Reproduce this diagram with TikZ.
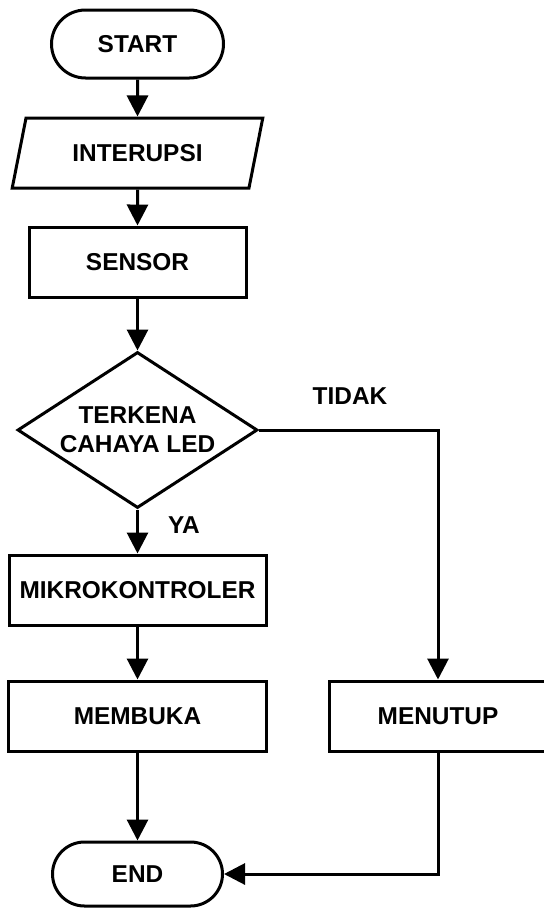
\documentclass[tikz,border=0pt]{standalone}
\usepackage{fontspec}
\setmainfont{Liberation Sans}
\usetikzlibrary{shapes.geometric, shapes.misc, arrows.meta}

\begin{document}
\begin{tikzpicture}
  [x=0.5pt, y=-0.5pt, line width=1.5pt,
   every node/.style={font=\fontsize{12.2}{14.5}\selectfont\bfseries},
   terminal/.style={draw, rounded rectangle, minimum width=#1, minimum height=34pt, inner sep=0pt},
   io box/.style={draw, trapezium, trapezium left angle=65, trapezium right angle=115,
     trapezium stretches=true, minimum width=126pt, minimum height=35pt, inner sep=0pt},
   proc box/.style={draw, rectangle, minimum width=#1, minimum height=35pt, inner sep=0pt},
   decision/.style={draw, diamond, shape aspect=1.54, minimum width=120pt, minimum height=78pt,
     inner sep=0pt, align=center},
   flow/.style={-{Triangle[length=10.5pt, width=10.5pt]}}]

  \useasboundingbox (0,0) rectangle (544,910);

  \node [terminal=86pt] (start) at (137.5,44) {START};
  \node [io box] (interupsi) at (137.5,153) {INTERUPSI};
  \node [proc box=108.5pt] (sensor) at (137.5,262) {SENSOR};
  \node [decision] (cek) at (137.5,430) {TERKENA\\CAHAYA LED};
  \node [proc box=128.5pt] (mikro) at (137.5,590) {MIKROKONTROLER};
  \node [proc box=129pt] (buka) at (137.5,716) {MEMBUKA};
  \node [proc box=109pt] (tutup) at (438,716) {MENUTUP};
  \node [terminal=85pt, minimum height=32pt] (end) at (137.5,874) {END};

  \node (tidak) at (350,396) {TIDAK};
  \node (ya) at (184,525) {YA};

  \draw [flow] (start) -- (interupsi);
  \draw [flow] (interupsi) -- (sensor);
  \draw [flow] (sensor) -- (cek);
  \draw [flow] (cek) -- (mikro);
  \draw [flow] (mikro) -- (buka);
  \draw [flow] (buka) -- (end);
  \draw [flow] (cek.east) -| (tutup.north);
  \draw [flow] (tutup.south) |- (end.east);

\end{tikzpicture}
\end{document}
